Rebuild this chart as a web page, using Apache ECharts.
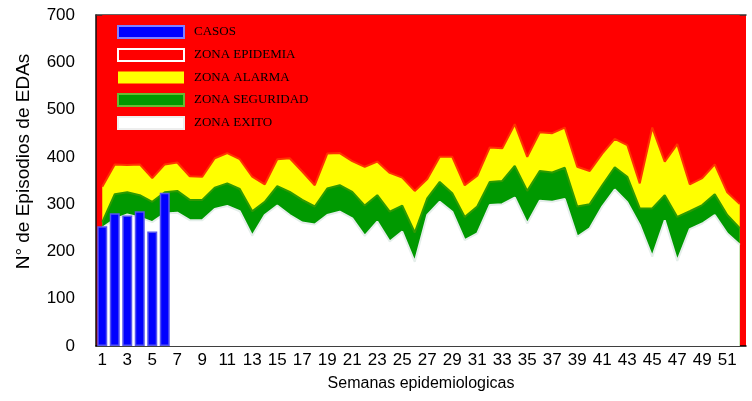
<!DOCTYPE html>
<html>
<head>
<meta charset="utf-8">
<script src="https://cdn.jsdelivr.net/npm/echarts@6/dist/echarts.min.js"></script>
<style>html,body{margin:0;padding:0;background:#fff;}#c{width:752px;height:401px;}</style>
</head>
<body>
<div id="c"></div>
<script>
var semanas = ['1','2','3','4','5','6','7','8','9','10','11','12','13','14','15','16','17','18','19','20','21','22','23','24','25','26','27','28','29','30','31','32','33','34','35','36','37','38','39','40','41','42','43','44','45','46','47','48','49','50','51','52'];
var casos = [253, 281, 276, 285, 242, 324];
// upper limit of each zone per week
var alarmaTop = [337,384,383,384,355,384,388,359,358,397, 408,395,358,342,395,397,369,340,407,408, 391,379,390,366,356,328,353,400,400,340, 360,420,418,469,400,452,450,462,379,370, 407,438,425,344,462,390,427,342,355,384, 325,300];
var seguridadTop = [262,321,325,319,305,325,328,309,309,335, 344,332,285,305,338,326,309,295,333,340, 326,297,319,284,297,240,312,347,323,273, 295,347,349,381,328,370,367,377,295,300, 340,378,358,291,291,319,273,285,298,321, 277,249];
var exitoTop = [250,268,278,272,262,280,282,266,266,290, 296,285,233,277,297,277,261,257,277,284, 270,233,263,221,242,178,277,305,284,224, 238,298,300,314,259,307,305,311,231,249, 295,331,304,256,189,266,180,247,259,277, 238,214];
var yTicks = [0,100,200,300,400,500,600,700];

var chart = echarts.init(document.getElementById('c'), null, {renderer:'canvas'});
var sans = 'Liberation Sans, Arial, sans-serif';
chart.setOption({
  animation: false,
  backgroundColor: '#ffffff',
  grid: {left: 96, right: 6, top: 15, bottom: 55, show: true, backgroundColor: '#ff0000', borderWidth: 0},
  legend: {
    orient: 'vertical', left: 112, top: 20, icon: 'rect',
    itemWidth: 66, itemHeight: 12, itemGap: 9,
    textStyle: {fontFamily: 'Liberation Serif, Times New Roman, serif', fontSize: 13, color: '#000', padding: [0,0,0,5]},
    data: [
      {name: 'CASOS', itemStyle: {color: '#0000ff', borderColor: '#8080ff', borderWidth: 2}},
      {name: 'ZONA EPIDEMIA', itemStyle: {color: '#ff0000', borderColor: '#ffffff', borderWidth: 2}},
      {name: 'ZONA ALARMA', itemStyle: {color: '#ffff00', borderColor: '#ffff00', borderWidth: 0}},
      {name: 'ZONA SEGURIDAD', itemStyle: {color: '#009900', borderColor: '#66bb33', borderWidth: 2}},
      {name: 'ZONA EXITO', itemStyle: {color: '#ffffff', borderColor: '#eeeeee', borderWidth: 2}}
    ]
  },
  xAxis: [{
    type: 'category', data: semanas, boundaryGap: true,
    axisLine: {show: true, lineStyle: {color: '#000', width: 1.5}},
    axisTick: {show: false},
    axisLabel: {interval: 1, color: '#000', fontFamily: sans, fontSize: 17, margin: 6},
    splitLine: {show: false},
    name: 'Semanas epidemiologicas', nameLocation: 'middle', nameGap: 30,
    nameTextStyle: {color: '#000', fontFamily: sans, fontSize: 16}
  }, {
    type: 'category', data: semanas, position: 'top', boundaryGap: true,
    axisLine: {show: true, lineStyle: {color: '#333', width: 1.5}},
    axisTick: {show: false}, axisLabel: {show: false}, splitLine: {show: false}
  }],
  yAxis: {
    type: 'value', min: 0, max: 700, interval: 100,
    axisLine: {show: true, lineStyle: {color: '#111', width: 1.5}},
    axisTick: {show: false},
    axisLabel: {color: '#000', fontFamily: sans, fontSize: 17, margin: 21},
    splitLine: {show: false},
    name: 'N° de Episodios de EDAs', nameLocation: 'middle', nameGap: 63, nameRotate: 90,
    nameTextStyle: {color: '#000', fontFamily: sans, fontSize: 19, padding: [0,0,0,38]}
  },
  series: [
    {name: 'ZONA EPIDEMIA', type: 'line', data: alarmaTop, symbol: 'none', z: 1,
     lineStyle: {width: 0, color: '#ff0000'}, itemStyle: {color: '#ff0000'},
     areaStyle: {color: '#ff0000', opacity: 1, origin: 'end'}},
    {name: 'ZONA ALARMA', type: 'line', data: alarmaTop, symbol: 'none', z: 2,
     lineStyle: {width: 2, color: '#ff3300'}, itemStyle: {color: '#ffff00'},
     areaStyle: {color: '#ffff00', opacity: 1, origin: 'start'}},
    {name: 'ZONA SEGURIDAD', type: 'line', data: seguridadTop, symbol: 'none', z: 3,
     lineStyle: {width: 2, color: '#2f9a00'}, itemStyle: {color: '#009900'},
     areaStyle: {color: '#009900', opacity: 1, origin: 'start'}},
    {name: 'ZONA EXITO', type: 'line', data: exitoTop, symbol: 'none', z: 4,
     lineStyle: {width: 2, color: '#e4eeea'}, itemStyle: {color: '#ffffff'},
     areaStyle: {color: '#ffffff', opacity: 1, origin: 'start'}},
    {name: 'CASOS', type: 'bar', data: casos, barWidth: 10, z: 10,
     itemStyle: {color: '#0000ff', borderColor: '#5555ee', borderWidth: 1.5}}
  ]
});
</script>
</body>
</html>
